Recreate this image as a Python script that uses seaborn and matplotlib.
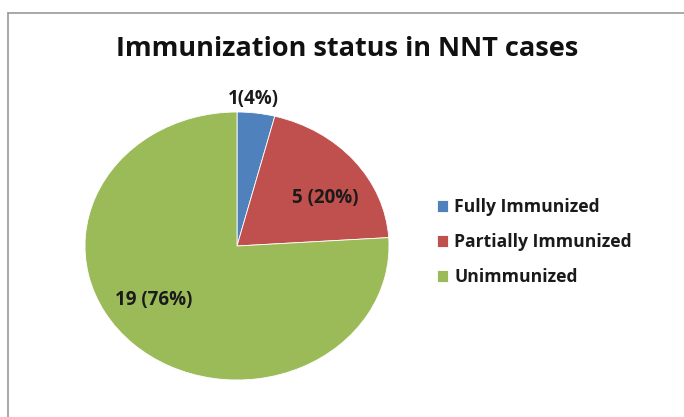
import matplotlib
matplotlib.use("Agg")
import matplotlib.pyplot as plt
import seaborn as sns
from matplotlib.lines import Line2D

sns.set_theme(style="white")
plt.rcParams['font.family'] = ['Open Sans', 'DejaVu Sans']

categories = ["Fully Immunized", "Partially Immunized", "Unimmunized"]
counts = [1, 5, 19]
percents = [4, 20, 76]
value_labels = ["1(4%)", "5 (20%)", "19 (76%)"]
colors = ["#4F81BD", "#C0504D", "#9BBB59"]

fig = plt.figure(figsize=(6.84, 4.17), dpi=100)
W, H = 684, 417

# Border (top and left lines like the cropped chart frame)
fig.add_artist(Line2D([8 / W, 1.0], [1 - 13 / H, 1 - 13 / H], transform=fig.transFigure,
                      color="#9a9a9a", lw=1.2))
fig.add_artist(Line2D([8 / W, 8 / W], [0.0, 1 - 13 / H], transform=fig.transFigure,
                      color="#9a9a9a", lw=1.2))

# Pie axes (slightly stretched horizontally like the reference)
left, right, top, bottom = 85, 389, 112, 380
ax = fig.add_axes([left / W, 1 - bottom / H, (right - left) / W, (bottom - top) / H])
wedges, _ = ax.pie(counts, colors=colors, startangle=90, counterclock=False,
                   wedgeprops=dict(linewidth=0.6, edgecolor="white"))
ax.set_aspect("auto")
ax.set_xlim(-1, 1)
ax.set_ylim(-1, 1)
ax.axis("off")

label_pos = [(0.11, 1.10), (0.58, 0.36), (-0.55, -0.40)]
for (x, y), txt in zip(label_pos, value_labels):
    ax.text(x, y, txt, ha="center", va="center", fontsize=13.5, fontweight="bold",
            color="#1a1a1a", clip_on=False)

fig.text(347 / W, 1 - 49 / H, "Immunization status in NNT cases", ha="center", va="center",
         fontsize=19.5, fontweight="bold", color="#111111")

leg = fig.legend(wedges, categories, loc="center left", bbox_to_anchor=(421 / W, 1 - 242 / H),
                 frameon=False, prop=dict(size=12.6, weight="bold"), handlelength=0.65,
                 handleheight=0.65, handletextpad=0.35, labelspacing=0.98)
for t in leg.get_texts():
    t.set_color("#1a1a1a")

fig.savefig("out.png", dpi=100, facecolor="white")
